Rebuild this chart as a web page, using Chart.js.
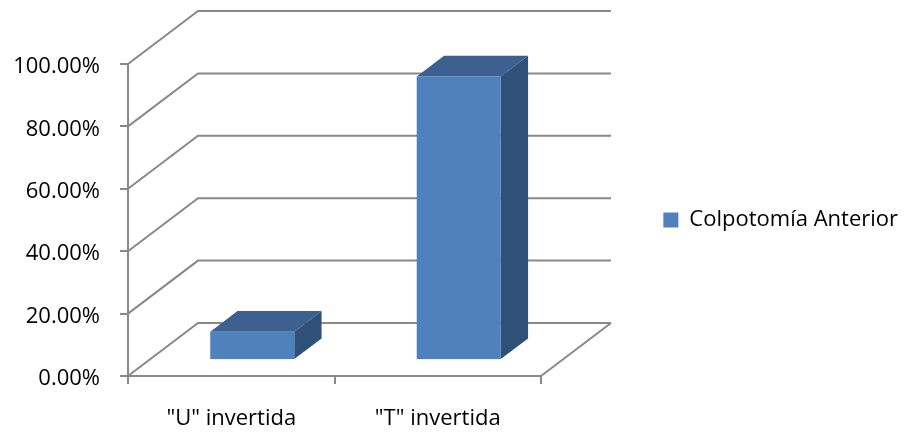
<!DOCTYPE html>
<html>
<head>
<meta charset="utf-8">
<script src="https://cdn.jsdelivr.net/npm/chart.js@4/dist/chart.umd.min.js"></script>
<style>
  html, body { margin: 0; padding: 0; background: #fff; }
  #wrap { width: 912px; height: 434px; position: relative; }
</style>
</head>
<body>
<div id="wrap"><canvas id="c"></canvas></div>
<script>
// Chart data
const categories = ['"U" invertida', '"T" invertida'];
const seriesName = 'Colpotomía Anterior';
const seriesValues = [9.09, 90.91];
const yTicks = [0, 20, 40, 60, 80, 100];

// 3D look: depth vector of the box and where the bars sit inside it
const DEPTH = { x: 70, y: -53 };
const BAR_FRONT = 0.30;
const BAR_DEPTH = 0.39;
const LINE = '#898989';
const FACE = { front: '#4F81BD', top: '#3C6190', side: '#2F5079' };
const FONT_FAMILY = '"Open Sans"';
const FONT_SIZE = 22;
const PLOT_RIGHT = 541;   // right end of the front floor edge
const RIGHT_PAD = 4;
const LEG_BOX = 15, LEG_PAD = 10;

// legend width as Chart.js computes it, so the spacer can fill the rest
const measureCtx = document.createElement('canvas').getContext('2d');
measureCtx.font = FONT_SIZE + 'px ' + FONT_FAMILY;
const legendWidth = LEG_PAD + LEG_BOX + FONT_SIZE / 2 + measureCtx.measureText(seriesName).width + 10;
const gapWidth = Math.max(0, 912 - RIGHT_PAD - legendWidth - PLOT_RIGHT);

const boxPlugin = {
  id: 'box3d',
  beforeDatasetsDraw(chart) {
    const { ctx, chartArea: a, scales: { x, y } } = chart;
    ctx.save();
    ctx.strokeStyle = LINE;
    ctx.lineWidth = 2;
    ctx.lineCap = 'butt';
    // side wall diagonals + back wall gridlines
    yTicks.forEach(v => {
      const py = y.getPixelForValue(v);
      ctx.beginPath();
      ctx.moveTo(a.left, py);
      ctx.lineTo(a.left + DEPTH.x, py + DEPTH.y);
      ctx.lineTo(a.right + DEPTH.x, py + DEPTH.y);
      ctx.stroke();
    });
    // right edge of the floor
    const p0 = y.getPixelForValue(0);
    ctx.beginPath();
    ctx.moveTo(a.right, p0);
    ctx.lineTo(a.right + DEPTH.x, p0 + DEPTH.y);
    ctx.stroke();

    // bars as boxes
    const fx = DEPTH.x * BAR_FRONT, fy = DEPTH.y * BAR_FRONT;
    const dx = DEPTH.x * BAR_DEPTH, dy = DEPTH.y * BAR_DEPTH;
    chart.getDatasetMeta(0).data.forEach(el => {
      const { x: cx, y: top, base, width } = el.getProps(['x', 'y', 'base', 'width'], true);
      const l = cx - width / 2 + fx, r = cx + width / 2 + fx;
      const t = top + fy, b = base + fy;
      // top face
      ctx.fillStyle = FACE.top;
      ctx.beginPath();
      ctx.moveTo(l, t); ctx.lineTo(l + dx, t + dy); ctx.lineTo(r + dx, t + dy); ctx.lineTo(r, t);
      ctx.closePath(); ctx.fill();
      // side face
      ctx.fillStyle = FACE.side;
      ctx.beginPath();
      ctx.moveTo(r, t); ctx.lineTo(r + dx, t + dy); ctx.lineTo(r + dx, b + dy); ctx.lineTo(r, b);
      ctx.closePath(); ctx.fill();
      // front face
      ctx.fillStyle = FACE.front;
      ctx.fillRect(l, t, r - l, b - t);
    });
    ctx.restore();
    return false;
  }
};

Chart.defaults.font.family = FONT_FAMILY;
Chart.defaults.font.size = FONT_SIZE;
Chart.defaults.color = '#000';

new Chart(document.getElementById('c'), {
  type: 'bar',
  data: {
    labels: categories,
    datasets: [{
      label: seriesName,
      data: seriesValues,
      backgroundColor: FACE.front,
      borderWidth: 0,
      barPercentage: 0.407,
      categoryPercentage: 1
    }]
  },
  options: {
    responsive: true,
    maintainAspectRatio: false,
    animation: false,
    layout: { padding: { top: 64, right: RIGHT_PAD, left: 0, bottom: 0 } },
    plugins: {
      tooltip: { enabled: false },
      legend: {
        position: 'right',
        fullSize: false,
        maxWidth: 400,
        labels: { boxWidth: LEG_BOX, boxHeight: LEG_BOX, padding: LEG_PAD, color: '#000' }
      }
    },
    scales: {
      x: {
        offset: true,
        grid: { offset: true, drawOnChartArea: false, drawTicks: true, tickLength: 8, color: LINE, lineWidth: 2 },
        border: { color: LINE, width: 2 },
        ticks: { padding: 22, maxRotation: 0 },
        afterFit(s) { s.height = 58; }
      },
      y: {
        min: 0, max: 100,
        afterBuildTicks(s) { s.ticks = yTicks.map(v => ({ value: v })); },
        grid: { drawOnChartArea: false, drawTicks: true, tickLength: 8, color: LINE, lineWidth: 2 },
        border: { color: LINE, width: 2 },
        ticks: { padding: 20, labelOffset: 3, callback: v => v.toFixed(2) + '%' },
        afterFit(s) { s.width = 128; }
      },
      // empty spacer between the plot and the legend (room for the 3D depth)
      gap: {
        type: 'linear',
        position: 'right',
        grid: { display: false },
        border: { display: false },
        ticks: { display: false },
        afterFit(s) { s.width = gapWidth; }
      }
    }
  },
  plugins: [boxPlugin]
});
</script>
</body>
</html>
